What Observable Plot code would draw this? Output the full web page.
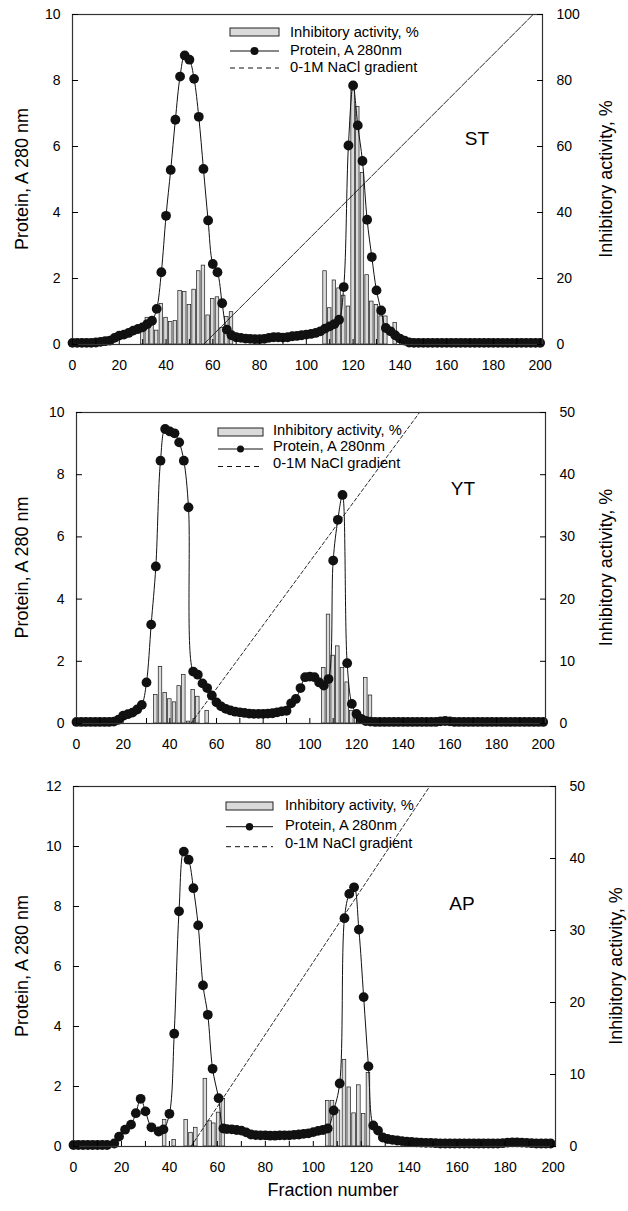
<!DOCTYPE html>
<html><head><meta charset="utf-8">
<script src="https://cdn.jsdelivr.net/npm/d3@7"></script>
<script src="https://cdn.jsdelivr.net/npm/@observablehq/plot@0.6"></script>
<style>
body{margin:0;background:#fff;}
#root{position:relative;width:628px;height:1211px;overflow:hidden;background:#fff;}
#root svg{position:absolute;left:0;}
</style></head><body><div id="root"></div>
<script>
// ---------- DATA ----------
const xTickValues = [0,10,20,30,40,50,60,70,80,90,100,110,120,130,140,150,160,170,180,190,200];
const xLabelValues = [0,20,40,60,80,100,120,140,160,180,200];

// ST panel
const stFraction = [0,2,4,6,8,10,12,14,16,18,20,22,24,26,28,30,32,34,36,38,40,42,44,46,48,50,52,54,56,58,60,62,64,66,68,70,72,74,76,78,80,82,84,86,88,90,92,94,96,98,100,102,104,106,108,110,112,114,116,118,120,122,124,126,128,130,132,134,136,138,140,142,144,146,148,150,152,154,156,158,160,162,164,166,168,170,172,174,176,178,180,182,184,186,188,190,192,194,196,198,200];
const stProtein = [0.05,0.05,0.05,0.05,0.05,0.06,0.08,0.10,0.12,0.20,0.27,0.30,0.35,0.42,0.47,0.52,0.62,0.72,1.08,2.19,3.90,5.29,6.81,8.12,8.76,8.63,8.05,6.90,5.32,3.76,2.44,2.19,1.25,0.45,0.28,0.22,0.20,0.18,0.17,0.16,0.16,0.17,0.20,0.22,0.22,0.21,0.22,0.25,0.26,0.28,0.30,0.32,0.35,0.40,0.48,0.55,0.62,0.75,1.74,6.03,7.85,6.64,5.56,3.78,2.65,1.64,1.03,0.50,0.40,0.28,0.18,0.12,0.06,0.05,0.05,0.05,0.05,0.05,0.05,0.05,0.05,0.05,0.05,0.05,0.05,0.05,0.05,0.05,0.05,0.05,0.05,0.05,0.05,0.05,0.05,0.05,0.05,0.05,0.05,0.05,0.05];
const stBarFraction = [30,32,34,36,38,40,42,44,46,48,50,52,54,56,58,60,62,64,66,68,108,110,112,114,116,118,120,122,124,126,128,130,132,134,138];
const stActivity = [6.3,8.1,7.0,4.2,12.3,8.1,6.8,7.1,16.2,15.9,12.0,16.6,22.2,23.9,8.8,13.8,14.3,5.0,8.3,9.8,22.2,11.0,19.4,17.0,14.8,11.5,77.0,72.0,52.0,21.0,13.0,12.0,8.5,8.5,6.5];
const stGradFraction = [56,197,201];
const stGradient = [0,100,100];
const stLeftTicks = [0,2,4,6,8,10];
const stRightTicks = [0,20,40,60,80,100];

// YT panel
const ytFraction = stFraction;
const ytProtein = [0.05,0.05,0.05,0.05,0.05,0.05,0.05,0.05,0.06,0.12,0.25,0.30,0.35,0.45,0.60,1.32,3.18,5.05,8.45,9.47,9.39,9.33,9.04,8.45,6.95,1.67,1.57,1.29,1.14,0.90,0.68,0.55,0.47,0.42,0.38,0.36,0.34,0.32,0.31,0.31,0.31,0.32,0.33,0.36,0.39,0.41,0.65,0.79,1.14,1.49,1.51,1.49,1.32,1.22,1.43,5.24,6.55,7.35,1.94,0.63,0.31,0.15,0.08,0.06,0.05,0.05,0.05,0.05,0.05,0.05,0.05,0.05,0.05,0.05,0.05,0.05,0.05,0.05,0.07,0.08,0.07,0.05,0.05,0.05,0.05,0.05,0.05,0.05,0.05,0.05,0.05,0.05,0.05,0.05,0.05,0.05,0.05,0.05,0.05,0.05,0.05];
const ytBarFraction = [34,36,38,40,42,44,46,48,50,52,56,106,108,110,112,114,116,118,120,124,126];
const ytActivity = [4.6,9.1,4.9,3.9,3.4,6.0,7.8,0.3,5.4,4.3,2.0,8.9,17.5,10.9,12.4,8.9,6.6,2.0,0.8,7.3,4.5];
const ytGradFraction = [49,147,201];
const ytGradient = [0,50,50];
const ytLeftTicks = [0,2,4,6,8,10];
const ytRightTicks = [0,10,20,30,40,50];

// AP panel
const apFraction = [0,2,4,6,8,10,12,14,17,19,21.5,24,26,28,30,32.5,35.5,37.5,40,42,44,46,48,50,52,54,56,58,60.5,62.5,64,66,68,70,72,74,76,78,80,82,84,86,88,90,92,94,96,98,100,102,104,106,108.5,111,113,115,117,119,121,123,125,127,129,131,133,135,137,139,141,143,145,147,149,151,153,155,157,159,161,163,165,167,169,171,173,175,177,179,181,183,185,187,189,191,193,195,197,199];
const apProtein = [0.05,0.05,0.05,0.05,0.05,0.05,0.05,0.05,0.10,0.33,0.56,0.73,1.11,1.59,1.17,0.64,0.50,0.57,1.09,3.76,7.84,9.83,9.56,8.61,7.37,5.37,4.39,2.59,1.61,0.60,0.58,0.57,0.55,0.53,0.47,0.40,0.38,0.37,0.37,0.36,0.36,0.37,0.37,0.37,0.39,0.40,0.42,0.44,0.48,0.52,0.55,0.60,1.20,2.10,7.61,8.42,8.64,7.23,4.98,2.67,0.70,0.53,0.30,0.25,0.22,0.20,0.18,0.16,0.15,0.14,0.13,0.12,0.12,0.11,0.10,0.10,0.10,0.10,0.10,0.10,0.10,0.10,0.10,0.10,0.10,0.10,0.10,0.11,0.13,0.14,0.14,0.13,0.12,0.11,0.10,0.10,0.10,0.10];
const apBarFraction = [38,42,47,49,51,55,57,58.5,60.5,62.5,106,108,110.5,113,115,117,119,121,123];
const apActivity = [3.7,0.9,3.7,1.9,2.6,9.4,3.5,3.2,4.7,6.6,6.3,6.3,5.0,12.0,8.2,4.6,8.5,4.5,10.2];
const apGradFraction = [49,148.5,201];
const apGradient = [0,50,50];
const apLeftTicks = [0,2,4,6,8,10,12];
const apRightTicks = [0,10,20,30,40,50];

const legendLabels = ["Inhibitory activity, %", "Protein, A 280nm", "0-1M NaCl gradient"];
const leftTitle = "Protein, A 280 nm";
const rightTitle = "Inhibitory activity, %";
const xTitle = "Fraction number";

// ---------- DRAWING ----------
const FONT = '"Liberation Sans", Arial, sans-serif';
const root = document.getElementById("root");

function panel(cfg) {
  const factor = cfg.yMax / cfg.rMax;
  const protein = cfg.fraction.map((f, i) => ({f, v: cfg.protein[i]}));
  const bars = cfg.barFraction.map((f, i) => ({f, v: cfg.activity[i]}));
  const grad = cfg.gradFraction.map((f, i) => ({f, v: cfg.gradient[i]}));
  const rightVals = cfg.rightTicks.map(t => t * factor);
  const svgEl = Plot.plot({
    width: 628, height: cfg.height,
    marginTop: cfg.mT, marginBottom: cfg.mB, marginLeft: cfg.mL, marginRight: cfg.mR,
    style: {fontFamily: FONT, fontSize: "14px", color: "#000", background: "transparent", overflow: "visible"},
    x: {domain: [0, 201]},
    y: {domain: [0, cfg.yMax]},
    marks: [
      Plot.rectY(bars, {x1: d => d.f - 0.75, x2: d => d.f + 0.75, y1: 0, y2: d => d.v * factor, fill: "#dadada", stroke: "#1a1a1a", strokeWidth: 0.7}),
      Plot.line(grad, {x: "f", y: d => d.v * factor, stroke: "#111", strokeWidth: 0.9, strokeDasharray: cfg.dash}),
      Plot.line(protein, {x: "f", y: "v", stroke: "#111", strokeWidth: 1, curve: "catmull-rom"}),
      Plot.dot(protein, {x: "f", y: "v", r: 4.9, fill: "#111", stroke: "none"}),
      Plot.frame({stroke: "#333", strokeWidth: 1.2}),
      // inward tick marks
      Plot.axisX(xTickValues, {anchor: "bottom", tickSize: 5, dy: -5, tickFormat: () => "", label: null}),
      Plot.axisY(cfg.leftTicks, {anchor: "left", tickSize: 6, dx: 6, tickFormat: () => "", label: null}),
      Plot.axisY(rightVals, {anchor: "right", tickSize: 6, dx: -6, tickFormat: () => "", label: null}),
      // tick labels
      Plot.axisX(xLabelValues, {anchor: "bottom", tickSize: 0, tickPadding: 16, label: null}),
      Plot.axisY(cfg.leftTicks, {anchor: "left", tickSize: 0, tickPadding: 12, label: null}),
      Plot.axisY(rightVals, {anchor: "right", tickSize: 0, tickPadding: 14, tickFormat: d => String(Math.round(d / factor)), label: null})
    ]
  });
  svgEl.style.top = cfg.top + "px";
  const svg = d3.select(svgEl);
  const L = cfg.legend;
  const g = svg.append("g").attr("font-family", FONT).attr("font-size", 14.7).attr("text-anchor", "start");
  g.append("rect").attr("x", L.x).attr("y", L.rows[0] - 4).attr("width", L.w).attr("height", 8)
    .attr("fill", "#dadada").attr("stroke", "#222").attr("stroke-width", 1);
  g.append("line").attr("x1", L.x).attr("x2", L.x + L.w).attr("y1", L.rows[1]).attr("y2", L.rows[1]).attr("stroke", "#111");
  g.append("circle").attr("cx", L.x + L.w / 2).attr("cy", L.rows[1]).attr("r", L.r).attr("fill", "#111");
  g.append("line").attr("x1", L.x).attr("x2", L.x + L.w).attr("y1", L.rows[2]).attr("y2", L.rows[2])
    .attr("stroke", "#111").attr("stroke-dasharray", "5,4");
  legendLabels.forEach((t, i) => {
    g.append("text").attr("x", L.tx).attr("y", L.trows[i]).attr("dy", "0.35em").attr("text-anchor", "start").attr("fill", "#000").text(t);
  });
  svg.append("text").attr("x", cfg.tag[0]).attr("y", cfg.tag[1]).attr("dy", "0.35em").attr("text-anchor", "middle")
    .attr("font-family", FONT).attr("font-size", 19).attr("fill", "#000").text(cfg.tagText);
  const cy = cfg.mT + (cfg.height - cfg.mT - cfg.mB) / 2;
  svg.append("text").attr("transform", `translate(${cfg.ltx},${cy}) rotate(-90)`).attr("text-anchor", "middle").attr("dy", "0.35em")
    .attr("font-family", FONT).attr("font-size", 18).attr("fill", "#000").text(leftTitle);
  svg.append("text").attr("transform", `translate(${cfg.rtx},${cy}) rotate(-90)`).attr("text-anchor", "middle").attr("dy", "0.35em")
    .attr("font-family", FONT).attr("font-size", 18).attr("fill", "#000").text(rightTitle);
  if (cfg.xTitle) {
    svg.append("text").attr("x", cfg.xTitle[0]).attr("y", cfg.xTitle[1]).attr("dy", "0.35em").attr("text-anchor", "middle")
      .attr("font-family", FONT).attr("font-size", 18).attr("fill", "#000").text(xTitle);
  }
  root.appendChild(svgEl);
}

panel({top: 0, height: 374, mT: 14, mB: 30, mL: 72, mR: 86, yMax: 10, rMax: 100,
  fraction: stFraction, protein: stProtein, barFraction: stBarFraction, activity: stActivity,
  gradFraction: stGradFraction, gradient: stGradient, leftTicks: stLeftTicks, rightTicks: stRightTicks,
  dash: "7,1.5", legend: {x: 230, w: 49, r: 4, rows: [32, 51, 68], tx: 290, trows: [32, 50, 67]},
  tag: [477, 138], tagText: "ST", ltx: 22, rtx: 606});

panel({top: 380, height: 373, mT: 32, mB: 30, mL: 76, mR: 83, yMax: 10, rMax: 50,
  fraction: ytFraction, protein: ytProtein, barFraction: ytBarFraction, activity: ytActivity,
  gradFraction: ytGradFraction, gradient: ytGradient, leftTicks: ytLeftTicks, rightTicks: ytRightTicks,
  dash: "3.5,2.5", legend: {x: 218, w: 45, r: 3.5, rows: [52, 69, 86.5], tx: 273, trows: [50, 66, 83]},
  tag: [463, 108], tagText: "YT", ltx: 22, rtx: 606});

panel({top: 760, height: 451, mT: 26, mB: 65, mL: 73, mR: 73, yMax: 12, rMax: 50,
  fraction: apFraction, protein: apProtein, barFraction: apBarFraction, activity: apActivity,
  gradFraction: apGradFraction, gradient: apGradient, leftTicks: apLeftTicks, rightTicks: apRightTicks,
  dash: "3.5,2.5", legend: {x: 226, w: 47, r: 3.7, rows: [46, 66.7, 86.7], tx: 285, trows: [45, 65, 83.3]},
  tag: [462, 143], tagText: "AP", ltx: 22, rtx: 616, xTitle: [333, 430]});
</script>
</body></html>
